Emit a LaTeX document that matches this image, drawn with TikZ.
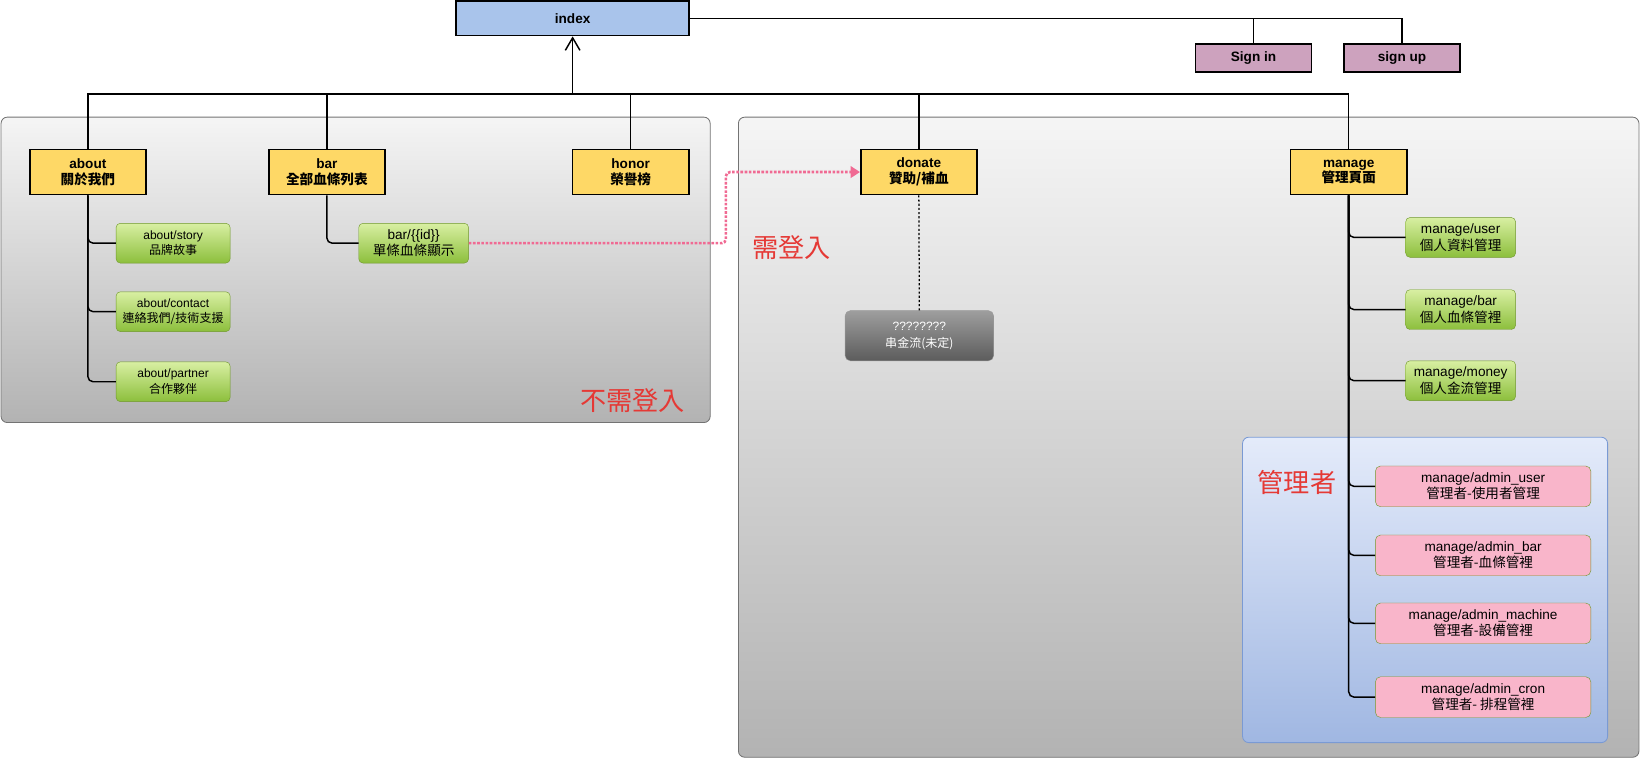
\documentclass[tikz,border=0pt]{standalone}
\usepackage{fontspec}
\setmainfont{Liberation Sans}
\newfontfamily\cjk{Noto Sans CJK TC}
\usetikzlibrary{arrows.meta}
\definecolor{pageyellow}{RGB}{254,216,102}
\definecolor{indexblue}{RGB}{169,196,235}
\definecolor{signmauve}{RGB}{205,162,190}
\definecolor{subtop}{RGB}{216,239,162}
\definecolor{subbot}{RGB}{140,191,60}
\definecolor{subedge}{RGB}{112,152,44}
\definecolor{adminpink}{RGB}{249,181,202}
\definecolor{admintop}{RGB}{228,235,250}
\definecolor{adminbot}{RGB}{160,183,226}
\definecolor{adminedge}{RGB}{122,154,212}
\definecolor{linkpink}{RGB}{240,106,147}
\definecolor{tagred}{RGB}{229,57,53}
\newcommand\zh[1]{{\cjk #1}}

\begin{document}
\begin{tikzpicture}[x=1pt, y=-1pt,
  page/.style={draw, line width=1.5pt, fill=pageyellow, minimum width=111pt, minimum height=43pt, align=center, inner sep=1pt, font=\fontsize{13}{15}\selectfont\bfseries},
  top/.style={page, fill=indexblue, minimum width=223pt, minimum height=33pt},
  sign/.style={page, fill=signmauve, minimum height=27pt},
  sub/.style={draw=subedge, rounded corners=4pt, top color=subtop, bottom color=subbot, minimum width=105pt, minimum height=38pt, align=center, inner sep=1pt, font=\fontsize{11.5}{15}\selectfont},
  bigsub/.style={sub, font=\fontsize{13}{16}\selectfont},
  admin/.style={draw=subedge, rounded corners=5pt, fill=adminpink, minimum width=206pt, minimum height=39pt, align=center, inner sep=1pt, font=\fontsize{13}{15}\selectfont},
  todo/.style={draw=gray!80, rounded corners=5pt, top color=black!38, bottom color=black!64, text=white, minimum width=142pt, minimum height=48pt, align=center, font=\fontsize{11.5}{16}\selectfont},
  grp/.style={draw=black!55, line width=0.8pt, rounded corners=6pt, top color=black!4, bottom color=black!30},
  tag/.style={text=tagred, font=\cjk\fontsize{25}{25}\selectfont},
  conn/.style={line width=1.4pt},
  branch/.style={conn, rounded corners=5pt}]
\useasboundingbox (0,0) rectangle (1568,725);

%Gruppene her
\draw[grp] (1,112) rectangle (679,404);
\draw[grp] (706,112) rectangle (1567,724);
\draw[draw=adminedge, line width=0.8pt, rounded corners=6pt, top color=admintop, bottom color=adminbot] (1188,418) rectangle (1537,710);

%Nodene her
\node[top] (index) at (547.5,17.5) {index};
\node[sign] (signin) at (1198.5,55.5) {Sign in};
\node[sign] (signup) at (1340.5,55.5) {sign up};
\node[page] (about) at (84,164.5) {about\\\zh{關於我們}};
\node[page] (bar) at (312.5,164.5) {bar\\\zh{全部血條列表}};
\node[page] (honor) at (603,164.5) {honor\\\zh{榮譽榜}};
\node[page] (donate) at (878.5,164.5) {donate\\\zh{贊助/補血}};
\node[page] (manage) at (1289.5,164.5) {manage\\\zh{管理頁面}};
\node[sub, minimum width=109pt] (story) at (165.5,232.5) {about/story\\\zh{品牌故事}};
\node[sub, minimum width=109pt] (contact) at (165.5,298) {about/contact\\\zh{連絡我們/技術支援}};
\node[sub, minimum width=109pt] (partner) at (165.5,365) {about/partner\\\zh{合作夥伴}};
\node[bigsub] (barid) at (395.5,232.5) {bar/\{\{id\}\}\\\zh{單條血條顯示}};
\node[todo] (pay) at (879,321) {????????\\\zh{串金流(未定)}};
\node[bigsub] (muser) at (1396.5,227) {manage/user\\\zh{個人資料管理}};
\node[bigsub] (mbar) at (1396.5,296) {manage/bar\\\zh{個人血條管裡}};
\node[bigsub] (mmoney) at (1396.5,364) {manage/money\\\zh{個人金流管理}};
\node[admin] (auser) at (1418,465) {manage/admin\_user\\\zh{管理者-使用者管理}};
\node[admin] (abar) at (1418,531) {manage/admin\_bar\\\zh{管理者-血條管裡}};
\node[admin] (amachine) at (1418,596) {manage/admin\_machine\\\zh{管理者-設備管裡}};
\node[admin] (acron) at (1418,666.5) {manage/admin\_cron\\\zh{管理者- 排程管裡}};
\node[tag] (free) at (605,383) {不需登入};
\node[tag] (need) at (757,237) {需登入};
\node[tag] (boss) at (1240,461) {管理者};

%Kantene her
\coordinate (bus) at (547.5,90);
\coordinate (turn) at (694,200);
\draw[conn, -{Straight Barb[length=12pt,width=14pt]}] (bus) -- (index.south);
\draw[conn] (about.north) |- (bus) -| (manage.north);
\foreach \n in {bar,honor,donate}
  \draw[conn] (\n.north) -- (\n.north |- bus);
\draw[conn, line width=1.2pt] (index.east) -| (signup.north);
\draw[conn, line width=1.2pt] (signin.north) -- (signin.north |- index.east);
\foreach \n in {story,contact,partner}
  \draw[branch] (about.south) |- (\n.west);
\draw[branch] (bar.south) |- (barid.west);
\foreach \n in {muser,mbar,mmoney,auser,abar,amachine,acron}
  \draw[branch] (manage.south) |- (\n.west);
\draw[line width=1.2pt, dash pattern=on 2pt off 2pt] (donate.south) -- (pay.north);
\draw[linkpink, line width=2.5pt, dash pattern=on 2.5pt off 1.5pt, rounded corners=4pt, -{Triangle[length=9pt,width=11pt]}] (barid.east) -- (barid.east -| turn) |- (donate.west);
\end{tikzpicture}
\end{document}
